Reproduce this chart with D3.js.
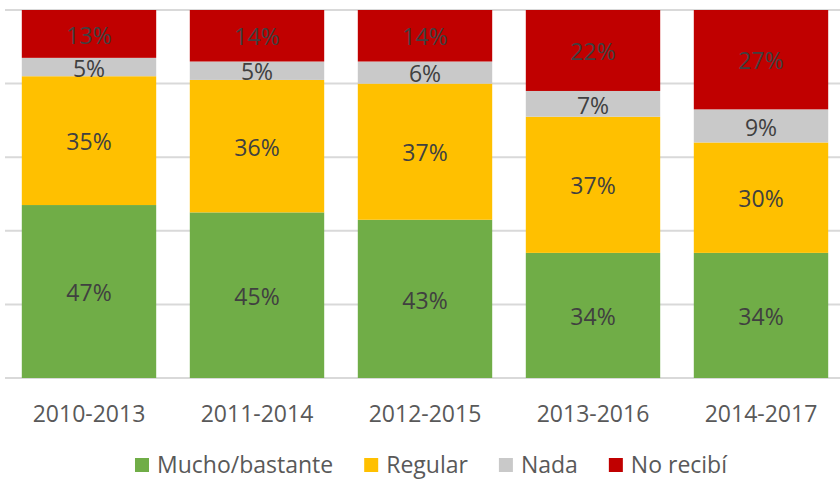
<!DOCTYPE html>
<meta charset="utf-8">
<script src="https://d3js.org/d3.v7.min.js"></script>
<style>
  body { margin: 0; background: #fff; }
  text { font-family: "Open Sans", sans-serif; }
</style>
<body>
<div id="chart"></div>
</body>
<script>
// data
var periods = ["2010-2013", "2011-2014", "2012-2015", "2013-2016", "2014-2017"];
var series = ["Mucho/bastante", "Regular", "Nada", "No recibí"];
var mucho   = [47, 45, 43, 34, 34];
var regular = [35, 36, 37, 37, 30];
var nada    = [5, 5, 6, 7, 9];
var norecib = [13, 14, 14, 22, 27];
var colors  = ["#70AD47", "#FFC000", "#C9C9C9", "#C00000"];
var yTicks  = [0, 20, 40, 60, 80, 100];

var width = 840, height = 480;

var svg = d3.select("#chart")
    .append("svg")
    .attr("width", width)
    .attr("height", height);

var rows = periods.map(function(p, i) {
  return { period: p, "Mucho/bastante": mucho[i], "Regular": regular[i], "Nada": nada[i], "No recibí": norecib[i] };
});

var stacked = d3.stack().keys(series)(rows);

var x = d3.scaleBand()
    .domain(periods)
    .range([5, 845])
    .paddingInner(0.2)
    .paddingOuter(0.1);

var y = d3.scaleLinear()
    .domain([0, 100])
    .range([378, 10]);

var color = d3.scaleOrdinal().domain(series).range(colors);

// gridlines
svg.append("g")
  .selectAll("line")
  .data(yTicks)
  .join("line")
    .attr("x1", 5)
    .attr("x2", 840)
    .attr("y1", function(d) { return y(d); })
    .attr("y2", function(d) { return y(d); })
    .attr("stroke", "#D9D9D9")
    .attr("stroke-width", 2);

// bars
var layers = svg.append("g")
  .selectAll("g")
  .data(stacked)
  .join("g")
    .attr("fill", function(d) { return color(d.key); });

layers.selectAll("rect")
  .data(function(d) { return d; })
  .join("rect")
    .attr("x", function(d) { return x(d.data.period); })
    .attr("y", function(d) { return y(d[1]); })
    .attr("width", x.bandwidth())
    .attr("height", function(d) { return y(d[0]) - y(d[1]); });

// value labels
layers.selectAll("text")
  .data(function(d) { return d; })
  .join("text")
    .attr("x", function(d) { return x(d.data.period) + x.bandwidth() / 2; })
    .attr("y", function(d) { return (y(d[0]) + y(d[1])) / 2; })
    .attr("dy", "0.42em")
    .attr("text-anchor", "middle")
    .attr("fill", "#404040")
    .style("font-size", "23px")
    .text(function(d) { return (d[1] - d[0]) + "%"; });

// x axis labels
var xAxis = svg.append("g")
    .attr("transform", "translate(0,378)")
    .call(d3.axisBottom(x).tickSize(0).tickPadding(44));
xAxis.select(".domain").remove();
xAxis.selectAll("text")
    .attr("fill", "#595959")
    .attr("dy", null)
    .style("font-family", "'Open Sans', sans-serif")
    .style("font-size", "23px");

// legend
var legend = svg.append("g");
var items = legend.selectAll("g")
  .data(series)
  .join("g");

items.append("rect")
    .attr("width", 14)
    .attr("height", 14)
    .attr("y", 458)
    .attr("fill", function(d) { return color(d); });

items.append("text")
    .attr("x", 22)
    .attr("y", 473)
    .attr("fill", "#595959")
    .style("font-size", "23px")
    .text(function(d) { return d; });

var pos = 0, offsets = [];
items.each(function(d) {
  offsets.push(pos);
  pos += 22 + d3.select(this).select("text").node().getComputedTextLength() + 31;
});
var total = pos - 31;
var start = 431 - total / 2;
items.attr("transform", function(d, i) { return "translate(" + (start + offsets[i]) + ",0)"; });
</script>
